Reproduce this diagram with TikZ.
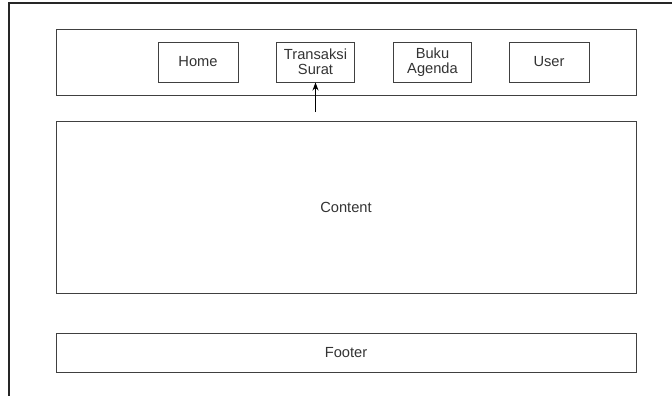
\documentclass[tikz,border=0pt]{standalone}
\usepackage{fontspec}
\setmainfont{Liberation Sans}
\usetikzlibrary{positioning}
\usetikzlibrary{arrows.meta}

\tikzset{
  frameline/.style={draw=black!85, line width=0.8pt},
  block/.style={draw=black!75, line width=0.75pt, rectangle, inner sep=0pt,
    text=black!80, font=\fontsize{11}{11}\selectfont, align=center},
  menu/.style={block, minimum width=60pt, minimum height=30pt},
  wide/.style={block, minimum width=435pt},
}

\begin{document}
\begin{tikzpicture}[x=0.75pt, y=-0.75pt]
\useasboundingbox (0,0) rectangle (672,396);

% page frame (only top and left are seen)
\draw[frameline] (9,396) -- (9,3) -- (672,3);

% header with menu
\node[wide, minimum height=49.5pt] (header) at (346,62) {};

\node[menu] (home) at (198,62) {Home};
\node[menu, minimum width=59pt] (trans) at (315.5,62) {Transaksi\\Surat};
\node[menu, minimum width=59pt] (agenda) at (432.5,62) {Buku\\Agenda};
\node[menu] (user) at (549,62) {User};

% content and footer
\node[wide, minimum height=129pt] (content) at (346,207) {Content};
\node[wide, minimum height=29.25pt] (footer) at (346,352.5) {Footer};

% pointer to the menu
\coordinate (pointer) at (315.5,112);
\draw[black, line width=0.75pt, -{Stealth[length=6pt,width=4.5pt]}] (pointer) -- (trans.south);

\end{tikzpicture}
\end{document}
